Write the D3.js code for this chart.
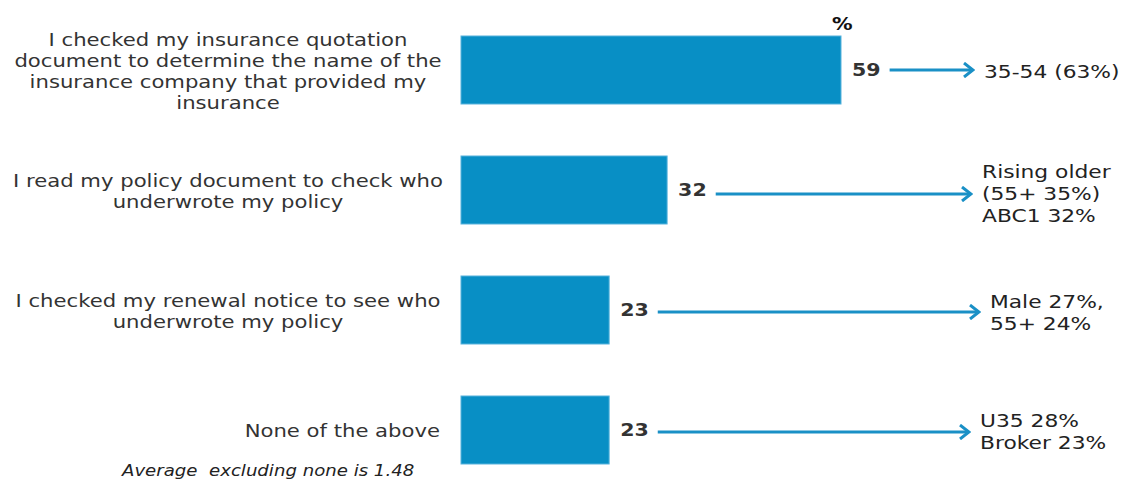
<!DOCTYPE html>
<html>
<head>
<meta charset="utf-8">
<script src="https://cdn.jsdelivr.net/npm/d3@7"></script>
<style>
  html, body { margin: 0; padding: 0; background: #fff; }
  svg { display: block; font-family: Verdana, "DejaVu Sans", sans-serif; }
</style>
</head>
<body>
<svg id="chart" width="1128" height="479"></svg>
<script>
// Statements (one bar each), shown as wrapped lines
const statements = [
  ["I checked my insurance quotation", "document to determine the name of the", "insurance company that provided my", "insurance"],
  ["I read my policy document to check who", "underwrote my policy"],
  ["I checked my renewal notice to see who", "underwrote my policy"],
  ["None of the above"]
];
// Percentage of respondents
const values = [59, 32, 23, 23];
// Sub-group callouts at the end of each arrow
const callouts = [
  ["35-54 (63%)"],
  ["Rising older", "(55+ 35%)", "ABC1 32%"],
  ["Male 27%,", "55+ 24%"],
  ["U35 28%", "Broker 23%"]
];
const unitLabel = "%";
const footnote = "Average  excluding none is 1.48";

// Layout
const SX = 1.21;                       // horizontal stretch of the wide text face
const calloutX = [984, 982, 990, 980];
const calloutShift = [2, 4, 3, 2];
const arrowShift = [0, 4, 2, 2];
const labelAlign = ["middle", "middle", "middle", "end"];
const blue = "#088fc5";
const arrowBlue = "#1a90c6";
const textCol = "#333333";

const svg = d3.select("#chart");

const x = d3.scaleLinear().domain([0, 59]).range([461, 841]);
const y = d3.scaleBand()
  .domain(d3.range(values.length))
  .range([36, 464])
  .paddingInner(52 / 120)
  .paddingOuter(0);
const mid = i => y(i) + y.bandwidth() / 2;

// Text block helper: stretched horizontally around its anchor point
function textBlock(parent, px, py, lines, lineH, opts) {
  const g = parent.append("g")
    .attr("transform", `translate(${px},${py}) scale(${SX},1)`);
  const t = g.append("text")
    .attr("font-size", opts.size)
    .attr("fill", opts.fill || textCol)
    .attr("text-anchor", opts.anchor || "start")
    .attr("font-weight", opts.weight || null)
    .attr("font-style", opts.style || null)
    .style("white-space", "pre");
  const top = -(lines.length - 1) * lineH / 2;
  t.selectAll("tspan").data(lines).join("tspan")
    .attr("x", 0)
    .attr("y", (l, k) => top + k * lineH)
    .attr("dy", "0.35em")
    .text(l => l);
  return t;
}

// Arrow marker (open chevron)
svg.append("defs").append("marker")
  .attr("id", "arrowhead")
  .attr("viewBox", "0 0 12 16")
  .attr("refX", 10).attr("refY", 8)
  .attr("markerWidth", 12).attr("markerHeight", 16)
  .attr("markerUnits", "userSpaceOnUse")
  .attr("orient", "auto")
  .append("path")
  .attr("d", "M1,1 L10,8 L1,15")
  .attr("fill", "none")
  .attr("stroke", arrowBlue)
  .attr("stroke-width", 3);

const rows = svg.selectAll("g.row").data(values).join("g").attr("class", "row");

// Bars
rows.append("rect")
  .attr("x", x(0))
  .attr("y", (d, i) => y(i))
  .attr("width", d => x(d) - x(0))
  .attr("height", y.bandwidth())
  .attr("fill", blue)
  .attr("stroke", "#56b2dc")
  .attr("stroke-width", 1);

rows.each(function (d, i) {
  const g = d3.select(this);

  // Value label
  const vx = x(d) + 11;
  const vt = textBlock(g, vx, mid(i), [String(d)], 0, { size: 17, weight: "bold" });
  const vEnd = vx + vt.node().getBBox().width * SX;

  // Arrow from value label to callout
  const ay = mid(i) + arrowShift[i];
  g.append("line")
    .attr("x1", vEnd + 9)
    .attr("x2", calloutX[i] - 11)
    .attr("y1", ay).attr("y2", ay)
    .attr("stroke", arrowBlue)
    .attr("stroke-width", 3)
    .attr("marker-end", "url(#arrowhead)");

  // Callout text
  textBlock(g, calloutX[i], mid(i) + calloutShift[i], callouts[i], 22, { size: 18, fill: "#222" });

  // Statement label
  const lx = labelAlign[i] === "end" ? 440 : 228;
  textBlock(g, lx, mid(i) + 1, statements[i], 21, { size: 17.5, anchor: labelAlign[i] });
});

// Unit marker above the longest bar
textBlock(svg, 832, 24, [unitLabel], 0, { size: 17, weight: "bold", fill: "#111" });

// Footnote
textBlock(svg, 122, 471, [footnote], 0, { size: 15, style: "italic", fill: "#222" });
</script>
</body>
</html>
